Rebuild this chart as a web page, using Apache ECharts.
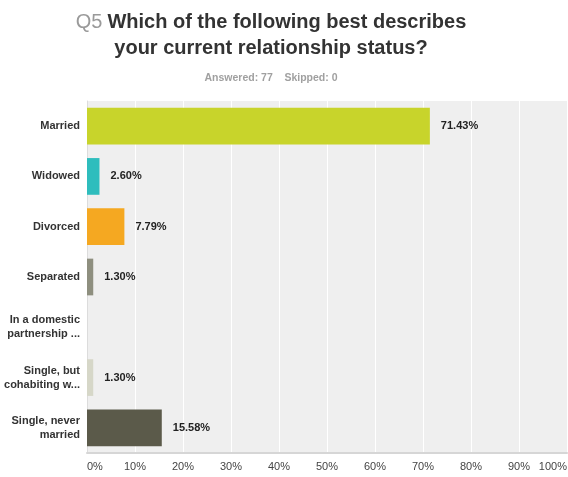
<!DOCTYPE html>
<html>
<head>
<meta charset="utf-8">
<style>
  html, body { margin: 0; padding: 0; background: #ffffff; }
  #chart { width: 568px; height: 477px; }
</style>
<script src="https://cdn.jsdelivr.net/npm/echarts@6/dist/echarts.min.js"></script>
</head>
<body>
<div id="chart"></div>
<script>
// Answer options, top to bottom
const categories = [
  'Married',
  'Widowed',
  'Divorced',
  'Separated',
  'In a domestic\npartnership ...',
  'Single, but\ncohabiting w...',
  'Single, never\nmarried'
];
// Share of respondents (%)
const percents = [71.43, 2.60, 7.79, 1.30, 0, 1.30, 15.58];
const barColors = ['#c8d42b', '#2ebdbd', '#f5a821', '#8e8f7f', '#d6d7c8', '#d6d7c8', '#5b5a4a'];
const tickValues = [0, 10, 20, 30, 40, 50, 60, 70, 80, 90, 100];

const fontFamily = 'Liberation Sans, Arial, Helvetica, sans-serif';

const chart = echarts.init(document.getElementById('chart'), null, { renderer: 'canvas' });

chart.setOption({
  backgroundColor: '#ffffff',
  animation: false,
  title: [
    {
      text: '{q|Q5} {m|Which of the following best describes}',
      left: 266, top: 7, textAlign: 'center',
      textStyle: {
        rich: {
          q: { fontSize: 20, fontWeight: 'normal', color: '#9a9a9a', fontFamily: fontFamily },
          m: { fontSize: 20, fontWeight: 'bold', color: '#333333', fontFamily: fontFamily }
        }
      }
    },
    {
      text: 'your current relationship status?',
      left: 266, top: 33, textAlign: 'center',
      textStyle: { fontSize: 20, fontWeight: 'bold', color: '#333333', fontFamily: fontFamily }
    },
    {
      text: 'Answered: 77    Skipped: 0',
      left: 266, top: 68, textAlign: 'center',
      textStyle: { fontSize: 10.5, fontWeight: 'bold', color: '#a0a0a0', fontFamily: fontFamily }
    }
  ],
  grid: {
    left: 87, right: 1, top: 101, height: 352,
    outerBoundsMode: 'none', containLabel: false,
    show: true, backgroundColor: '#efefef', borderWidth: 0
  },
  xAxis: {
    type: 'value', min: 0, max: 100, interval: 10,
    axisLine: { show: true, lineStyle: { color: '#d6d6d6', width: 2 } },
    axisTick: { show: false },
    splitLine: { show: true, lineStyle: { color: '#ffffff', width: 1 } },
    axisLabel: {
      formatter: function (v) { return tickValues.indexOf(v) >= 0 ? v + '%' : ''; },
      color: '#444444', fontSize: 11, fontFamily: fontFamily, margin: 8,
      alignMinLabel: 'left', alignMaxLabel: 'right'
    }
  },
  yAxis: {
    type: 'category', inverse: true, data: categories,
    axisLine: { show: true, lineStyle: { color: '#dcdcdc', width: 1 } },
    axisTick: { show: false },
    axisLabel: {
      color: '#333333', fontSize: 11, fontWeight: 'bold', fontFamily: fontFamily,
      lineHeight: 14, align: 'right', margin: 7
    }
  },
  series: [
    {
      type: 'bar',
      data: percents.map(function (v, i) { return { value: v, itemStyle: { color: barColors[i] } }; }),
      barWidth: '73%',
      label: {
        show: true, position: 'right', distance: 11,
        formatter: function (p) { return p.value > 0 ? p.value.toFixed(2) + '%' : ''; },
        color: '#222222', fontSize: 11, fontWeight: 'bold', fontFamily: fontFamily
      }
    }
  ]
});
</script>
</body>
</html>
